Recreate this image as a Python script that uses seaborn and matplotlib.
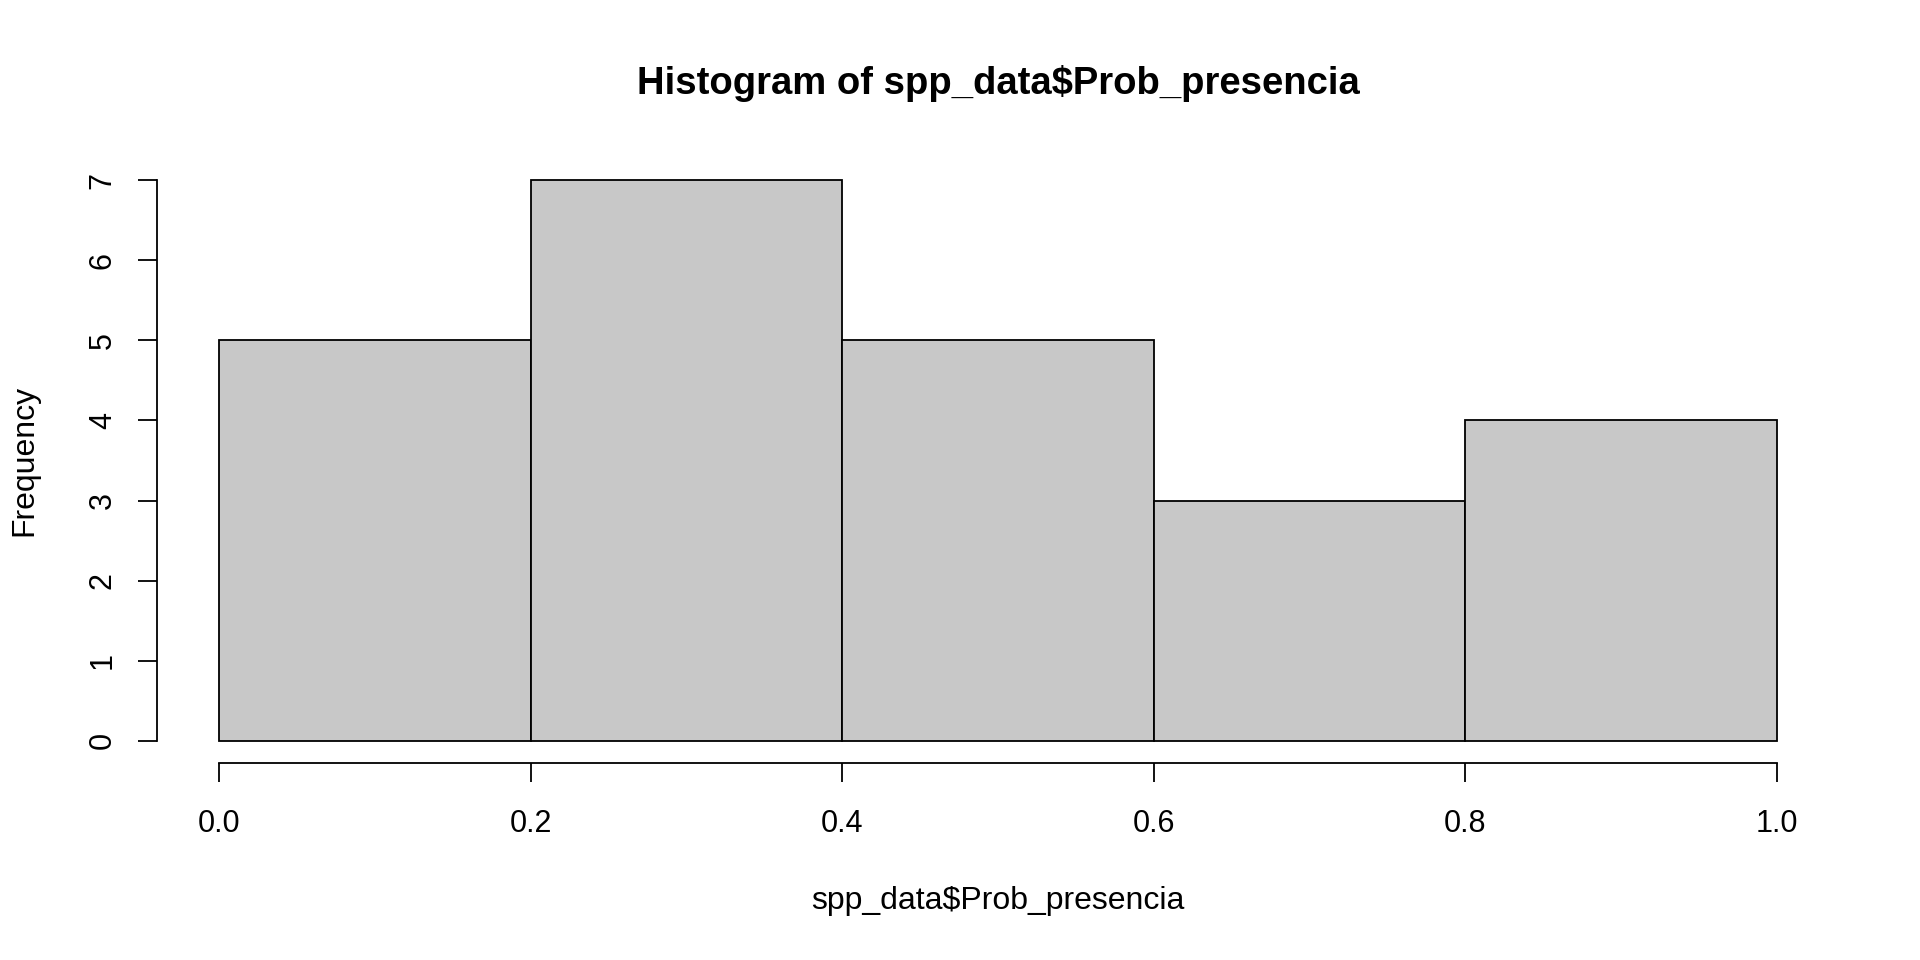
import matplotlib
matplotlib.use("Agg")
import matplotlib.pyplot as plt
import seaborn as sns
import numpy as np

# Observed values (spp_data$Prob_presencia), read to reproduce bin counts 5,7,5,3,4
prob_presencia = [0.03, 0.08, 0.12, 0.15, 0.18,
                  0.21, 0.24, 0.27, 0.30, 0.33, 0.36, 0.39,
                  0.42, 0.46, 0.50, 0.54, 0.58,
                  0.65, 0.70, 0.75,
                  0.83, 0.88, 0.92, 0.97]
bin_edges = [0.0, 0.2, 0.4, 0.6, 0.8, 1.0]
x_ticks = [0.0, 0.2, 0.4, 0.6, 0.8, 1.0]
x_ticklabels = ["0.0", "0.2", "0.4", "0.6", "0.8", "1.0"]
y_ticks = [0, 1, 2, 3, 4, 5, 6, 7]
title = "Histogram of spp_data$Prob_presencia"
xlabel = "spp_data$Prob_presencia"
ylabel = "Frequency"

sns.set_style("ticks")
plt.rcParams['font.family'] = ['Liberation Sans', 'DejaVu Sans']
plt.rcParams['text.color'] = 'black'
plt.rcParams['xtick.color'] = 'black'
plt.rcParams['ytick.color'] = 'black'
plt.rcParams['xtick.labelcolor'] = 'black'
plt.rcParams['ytick.labelcolor'] = 'black'

fig = plt.figure(figsize=(19.2, 9.6), dpi=100)
ax = fig.add_axes([0.0816, 0.2049, 0.958 - 0.0816, 0.8358 - 0.2049])

sns.histplot(x=prob_presencia, bins=bin_edges, color="#C8C8C8", edgecolor="black",
             linewidth=1.3, alpha=1.0, ax=ax)

ax.set_xlim(-0.04, 1.04)
ax.set_ylim(-0.28, 7.28)
ax.set_xticks(x_ticks)
ax.set_xticklabels(x_ticklabels)
ax.set_yticks(y_ticks)
ax.set_yticklabels([str(v) for v in y_ticks], rotation=90, va="center")

for s in ["top", "right"]:
    ax.spines[s].set_visible(False)
ax.spines["left"].set_bounds(0, 7)
ax.spines["bottom"].set_bounds(0, 1)
for s in ["left", "bottom"]:
    ax.spines[s].set_linewidth(1.3)
    ax.spines[s].set_color("black")

ax.tick_params(axis="both", which="major", length=14, width=1.3, color="black",
               labelcolor="black", labelsize=22, direction="out",
               bottom=True, left=True)
ax.tick_params(axis="x", pad=19)
ax.tick_params(axis="y", pad=14)
ax.set_xlabel("")
ax.set_ylabel("")

fig.text(0.5 * (0.0816 + 0.958), 1 - 83.5 / 960, title, ha="center", va="center",
         fontsize=27.5, fontweight="bold", color="black")
fig.text(0.5 * (0.0816 + 0.958), 1 - 901 / 960, xlabel, ha="center", va="center",
         fontsize=23, color="black")
fig.text(24.5 / 1920, 0.5208, ylabel, ha="center", va="center", rotation=90,
         fontsize=23, color="black")

fig.savefig("out.png", dpi=100, facecolor="white")
